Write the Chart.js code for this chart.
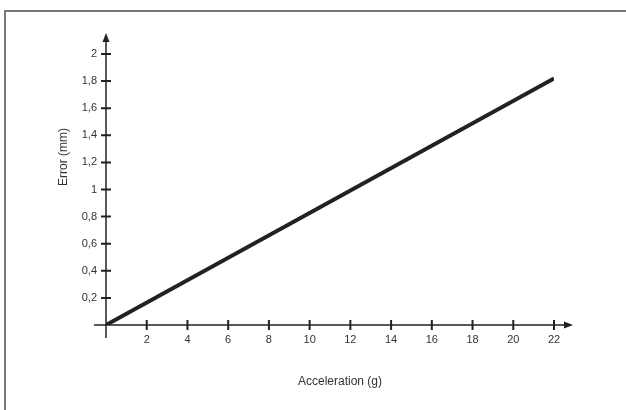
<!DOCTYPE html>
<html>
<head>
<meta charset="utf-8">
<script src="https://cdn.jsdelivr.net/npm/chart.js@4"></script>
<style>
  html, body { margin: 0; padding: 0; background: #fff; }
  #wrap { width: 626px; height: 410px; }
</style>
</head>
<body>
<div id="wrap"><canvas id="errChart"></canvas></div>
<script>
// data
const accel = [0, 22];
const error = [0, 1.82];
const xTicks = [2, 4, 6, 8, 10, 12, 14, 16, 18, 20, 22];
const yTicks = [0.2, 0.4, 0.6, 0.8, 1, 1.2, 1.4, 1.6, 1.8, 2];

const FONT = "'Liberation Sans', Arial, sans-serif";
const INK = "#222";

const comma = v => String(v).replace(".", ",");

// frame, axes with arrows, cross ticks and axis titles
const axesPlugin = {
  id: "axesPlugin",
  beforeDatasetsDraw(chart) {
    const ctx = chart.ctx;
    const xs = chart.scales.x, ys = chart.scales.y;
    const x0 = xs.getPixelForValue(0), y0 = ys.getPixelForValue(0);
    ctx.save();

    // outer frame (only left and top visible)
    ctx.strokeStyle = "#777";
    ctx.lineWidth = 2;
    ctx.strokeRect(5, 11, 640, 420);

    ctx.strokeStyle = INK;
    ctx.fillStyle = INK;
    ctx.lineWidth = 1.5;
    ctx.beginPath();
    ctx.moveTo(94, y0); ctx.lineTo(567, y0);
    ctx.moveTo(x0, 338); ctx.lineTo(x0, 40);
    ctx.stroke();

    // arrow heads
    ctx.beginPath();
    ctx.moveTo(573, y0); ctx.lineTo(564, y0 - 3.5); ctx.lineTo(564, y0 + 3.5);
    ctx.closePath(); ctx.fill();
    ctx.beginPath();
    ctx.moveTo(x0, 33); ctx.lineTo(x0 - 3.5, 42); ctx.lineTo(x0 + 3.5, 42);
    ctx.closePath(); ctx.fill();

    // tick marks across the axes
    ctx.lineWidth = 2;
    ctx.beginPath();
    xTicks.forEach(v => {
      const p = xs.getPixelForValue(v);
      ctx.moveTo(p, y0 - 5); ctx.lineTo(p, y0 + 5);
    });
    yTicks.forEach(v => {
      const p = ys.getPixelForValue(v);
      ctx.moveTo(x0 - 5, p); ctx.lineTo(x0 + 5, p);
    });
    ctx.stroke();

    // axis titles
    ctx.fillStyle = "#333";
    ctx.font = "12px " + FONT;
    ctx.textAlign = "center";
    ctx.textBaseline = "middle";
    ctx.fillText("Acceleration (g)", 340, 382);
    ctx.translate(64, 157);
    ctx.rotate(-Math.PI / 2);
    ctx.fillText("Error (mm)", 0, 0);
    ctx.restore();
  }
};

new Chart(document.getElementById("errChart"), {
  type: "line",
  data: {
    datasets: [
      {
        data: accel.map((a, i) => ({ x: a, y: error[i] })),
        borderColor: INK,
        borderWidth: 4,
        pointRadius: 0,
        fill: false,
        tension: 0,
      },
    ],
  },
  options: {
    responsive: true,
    maintainAspectRatio: false,
    animation: false,
    layout: { padding: { top: 54, right: 72, left: 0, bottom: 0 } },
    plugins: { legend: { display: false }, tooltip: { enabled: false } },
    scales: {
      x: {
        type: "linear",
        min: 0,
        max: 22,
        afterBuildTicks: s => { s.ticks = xTicks.map(v => ({ value: v })); },
        afterFit: s => { s.height = 85; },
        ticks: {
          color: "#333",
          font: { size: 11, family: FONT },
          maxRotation: 0,
          autoSkip: false,
          padding: 3,
          callback: v => comma(v),
        },
        grid: { drawOnChartArea: false, color: "rgba(0,0,0,0)", tickLength: 5 },
        border: { display: false },
      },
      y: {
        min: 0,
        max: 2,
        afterBuildTicks: s => { s.ticks = yTicks.map(v => ({ value: v })); },
        afterFit: s => { s.width = 106; },
        ticks: {
          color: "#333",
          font: { size: 11, family: FONT },
          autoSkip: false,
          padding: 4,
          callback: v => comma(v),
        },
        grid: { drawOnChartArea: false, color: "rgba(0,0,0,0)", tickLength: 5 },
        border: { display: false },
      },
    },
  },
  plugins: [axesPlugin],
});
</script>
</body>
</html>
